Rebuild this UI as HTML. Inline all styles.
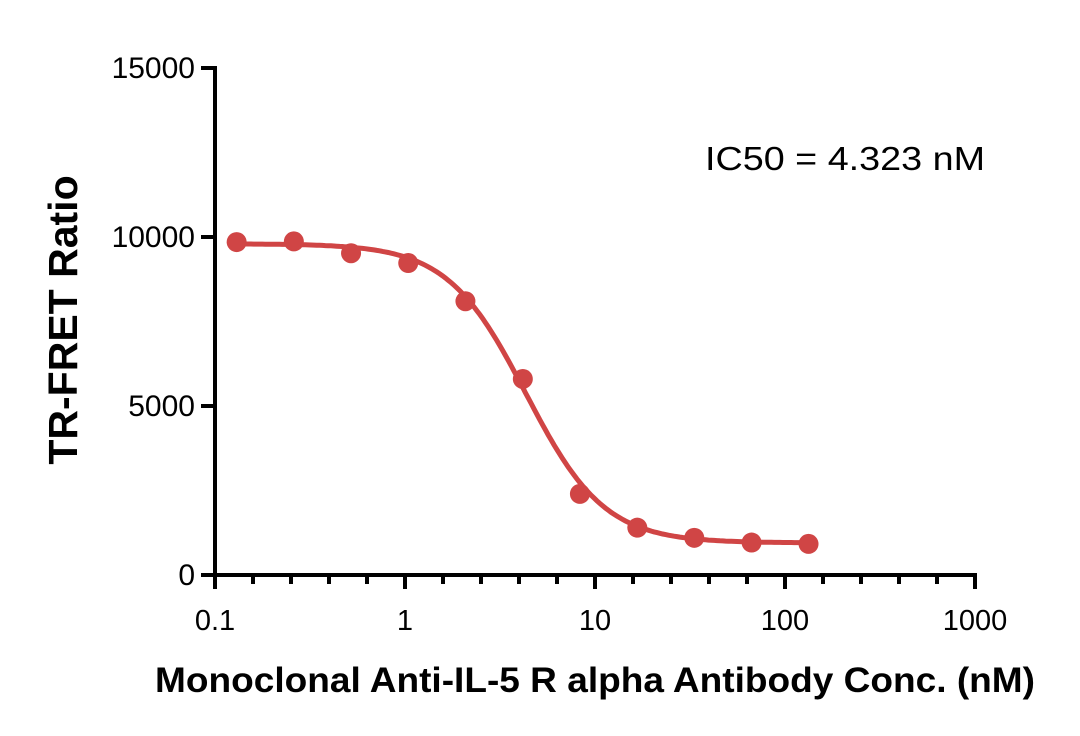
<!DOCTYPE html>
<html><head><meta charset="utf-8"><style>
body{margin:0;background:#fff;}
svg{display:block;font-family:"Liberation Sans",sans-serif;}
</style></head><body>
<svg id="c" width="1080" height="736" viewBox="0 0 1080 736"></svg>
<script>
const conc=[0.13,0.26,0.52,1.04,2.08,4.17,8.33,16.7,33.3,66.7,133];
const ratio=[9850,9870,9520,9230,8100,5800,2400,1400,1100,960,920];
const yTicks=[0,5000,10000,15000];
const xTicks=[0.1,1,10,100,1000];
const xTickLabels=["0.1","1","10","100","1000"];
const fitTop=[9800];const fitBottom=[950];const fitIC50=[4.323];const fitHill=[2.1];
const NS="http://www.w3.org/2000/svg";
const svg=document.getElementById('c');
const X0=215,X1=975,Y0=575,Y1=68;
const xs=v=>X0+(Math.log10(v)+1)/4*(X1-X0);
const ys=v=>Y0-v/15000*(Y0-Y1);
function mk(t,a){const e=document.createElementNS(NS,t);for(const k in a)e.setAttribute(k,a[k]);svg.appendChild(e);return e;}
let e=mk('line',{x1:X0,y1:Y0,x2:X1+2,y2:Y0,stroke:'#000','stroke-width':4});

e=mk('line',{x1:X0,y1:Y1-2,x2:X0,y2:Y0+12,stroke:'#000','stroke-width':4});

yTicks.forEach(v=>{
 e=mk('line',{x1:X0-14,y1:ys(v),x2:X0,y2:ys(v),stroke:'#000','stroke-width':4});
 
 e=mk('text',{x:X0-20,y:ys(v)+10,'text-anchor':'end','font-size':30});e.textContent=v;
 
});
xTicks.forEach((v,i)=>{
 e=mk('line',{x1:xs(v),y1:Y0,x2:xs(v),y2:Y0+14,stroke:'#000','stroke-width':4});
 
 e=mk('text',{x:xs(v),y:Y0+55,'text-anchor':'middle','font-size':29});e.textContent=xTickLabels[i];
 
 if(i<xTicks.length-1){for(let k=1;k<5;k++){const px=xs(v)+k*(xs(xTicks[i+1])-xs(v))/5;
  e=mk('line',{x1:px,y1:Y0,x2:px,y2:Y0+9,stroke:'#000','stroke-width':4});
  }}
});
let d='';
for(let i=0;i<=200;i++){const lx=Math.log10(0.13)+i/200*(Math.log10(133)-Math.log10(0.13));const x=Math.pow(10,lx);
 const y=fitBottom[0]+(fitTop[0]-fitBottom[0])/(1+Math.pow(x/fitIC50[0],fitHill[0]));
 d+=(i?'L':'M')+xs(x).toFixed(1)+','+ys(y).toFixed(1);}
e=mk('path',{d:d,fill:'none',stroke:'#d04545','stroke-width':5});

conc.forEach((c,i)=>{e=mk('circle',{cx:xs(c),cy:ys(ratio[i]),r:10,fill:'#d04545'});
 });
e=mk('text',{x:705,y:170,'font-size':33,textLength:280,lengthAdjust:'spacingAndGlyphs'});e.textContent='IC50 = 4.323 nM';

e=mk('text',{x:155,y:692,'font-size':35,'font-weight':'bold',textLength:880,lengthAdjust:'spacingAndGlyphs'});e.textContent='Monoclonal Anti-IL-5 R alpha Antibody Conc. (nM)';

e=mk('text',{x:0,y:0,'text-anchor':'middle','font-size':41,'font-weight':'bold',transform:'translate(77,320) rotate(-90)'});e.textContent='TR-FRET Ratio';

</script>
</body></html>
